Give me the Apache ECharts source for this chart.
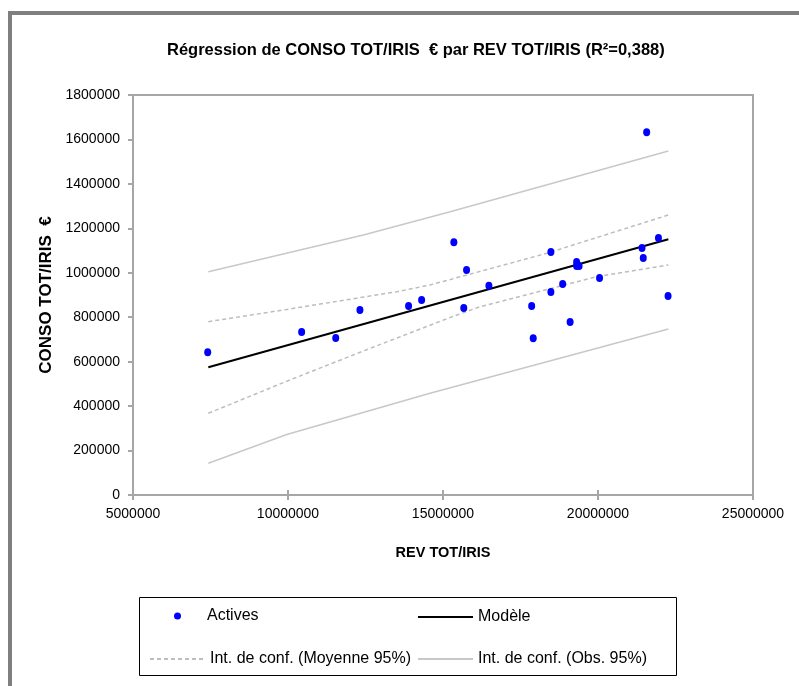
<!DOCTYPE html>
<html><head><meta charset="utf-8">
<script src="https://cdn.jsdelivr.net/npm/echarts@6/dist/echarts.min.js"></script>
<style>html,body{margin:0;padding:0;background:#fff}#c{width:799px;height:686px}</style>
</head><body><div id="c"></div>
<script>
// Observations (REV TOT/IRIS, CONSO TOT/IRIS €)
var activesX = [7410000,10440000,11540000,12320000,13890000,14310000,15350000,15670000,15760000,16480000,17860000,17910000,18480000,18480000,18860000,19100000,19310000,19310000,19390000,20050000,21420000,21460000,21950000,21570000,22260000];
var activesY = [642000,733600,706500,832600,850600,877600,1137000,841600,1012600,942000,850600,705200,913600,1093600,949600,778600,1048600,1030600,1030600,976600,1111600,1066600,1156600,1632300,895600];
// Model line
var modelX = [7430000,22270000];
var modelY = [574700,1150700];
// Confidence interval on the mean (95%)
var meanUpX = [7430000,9960000,13510000,14580000,18350000,22270000];
var meanUpY = [779900,835000,914900,945000,1087700,1260000];
var meanLoX = [7430000,9960000,12430000,15120000,16190000,19960000,22270000];
var meanLoY = [367700,512000,648000,793000,847000,982400,1035000];
// Confidence interval on observations (95%)
var obsUpX = [7430000,12430000,15230000,22270000];
var obsUpY = [1004900,1170000,1274900,1548000];
var obsLoX = [7430000,9960000,14580000,22270000];
var obsLoY = [142700,272000,457700,747000];
// Axis ticks
var xTicks = {min:5000000, max:25000000, step:5000000};
var yTicks = {min:0, max:1800000, step:200000};

function zip(a,b){return a.map(function(v,i){return [v,b[i]];});}
var FONT = '"Liberation Sans",Arial,sans-serif';
var AX = '#a6a6a6';
var chart = echarts.init(document.getElementById('c'));
var nMean = 'Int. de conf. (Moyenne 95%)', nObs = 'Int. de conf. (Obs. 95%)';
function legend(name, left, top, w, h, icon, hideSym){
  var d = {name:name}; if(icon) d.icon = icon;
  var o = {data:[d], left:left, top:top, itemWidth:w, itemHeight:h, padding:0, itemGap:0,
    selectedMode:false, textStyle:{fontFamily:FONT, fontSize:16, color:'#000'}};
  if(hideSym) o.itemStyle = {opacity:0};
  return o;
}
function lbl(v){return String(v);}
chart.setOption({
  animation:false,
  textStyle:{fontFamily:FONT},
  title:{text:'Régression de CONSO TOT/IRIS  € par REV TOT/IRIS (R²=0,388)', left:162, top:37,
    textStyle:{fontFamily:FONT, fontSize:16.5, fontWeight:'bold', color:'#000'}},
  graphic:[
    {type:'rect', shape:{x:10, y:13, width:830, height:740}, style:{fill:null, stroke:'#7f7f7f', lineWidth:4}, silent:true},
    {type:'rect', shape:{x:139.5, y:597.5, width:537, height:78}, style:{fill:null, stroke:'#000', lineWidth:1}, silent:true}
  ],
  legend:[
    legend('Actives', 174, 608, 49, 7, 'circle', false),
    legend('Modèle', 417, 609, 55, 14, null, true),
    legend(nMean, 149, 651, 55, 14, null, true),
    legend(nObs, 417, 651, 55, 14, null, true)
  ],
  grid:{left:133, top:95, width:620, height:400, show:true, borderColor:AX, borderWidth:2},
  xAxis:[{type:'value', min:xTicks.min, max:xTicks.max, interval:xTicks.step,
    name:'REV TOT/IRIS', nameLocation:'middle', nameGap:50,
    nameTextStyle:{fontFamily:FONT, fontSize:14.5, fontWeight:'bold', color:'#000'},
    axisLine:{show:true, lineStyle:{color:AX, width:2}},
    axisTick:{show:true, length:5, lineStyle:{color:AX, width:2}},
    splitLine:{show:false},
    axisLabel:{fontFamily:FONT, fontSize:14, color:'#000', margin:12, formatter:lbl}},
   {type:'value', min:xTicks.min, max:xTicks.max, interval:xTicks.step, position:'bottom',
    axisLine:{show:false}, axisLabel:{show:false}, splitLine:{show:false},
    axisTick:{show:true, inside:true, length:5, lineStyle:{color:AX, width:2}}}],
  yAxis:{type:'value', min:yTicks.min, max:yTicks.max, interval:yTicks.step,
    name:'CONSO TOT/IRIS  €', nameLocation:'middle', nameGap:73,
    nameTextStyle:{fontFamily:FONT, fontSize:17, fontWeight:'bold', color:'#000'},
    axisLine:{show:true, lineStyle:{color:AX, width:2}},
    axisTick:{show:true, length:5, lineStyle:{color:AX, width:2}},
    splitLine:{show:false},
    axisLabel:{fontFamily:FONT, fontSize:14, color:'#000', margin:13, formatter:lbl}},
  series:[
    {name:nObs, type:'line', data:zip(obsUpX,obsUpY), symbol:'none', lineStyle:{color:'#c8c8c8', width:1.5}, itemStyle:{color:'#c8c8c8'}, z:2},
    {name:nObs, type:'line', data:zip(obsLoX,obsLoY), symbol:'none', lineStyle:{color:'#c8c8c8', width:1.5}, itemStyle:{color:'#c8c8c8'}, z:2},
    {name:nMean, type:'line', data:zip(meanUpX,meanUpY), symbol:'none', lineStyle:{color:'#bdbdbd', width:1.5, type:[4,3]}, itemStyle:{color:'#bdbdbd'}, z:2},
    {name:nMean, type:'line', data:zip(meanLoX,meanLoY), symbol:'none', lineStyle:{color:'#bdbdbd', width:1.5, type:[4,3]}, itemStyle:{color:'#bdbdbd'}, z:2},
    {name:'Modèle', type:'line', data:zip(modelX,modelY), symbol:'none', lineStyle:{color:'#000', width:2}, itemStyle:{color:'#000'}, z:3},
    {name:'Actives', type:'scatter', data:zip(activesX,activesY), symbol:'circle', symbolSize:[7,8], itemStyle:{color:'#0000ff', opacity:1}, z:4}
  ]
});
</script></body></html>
